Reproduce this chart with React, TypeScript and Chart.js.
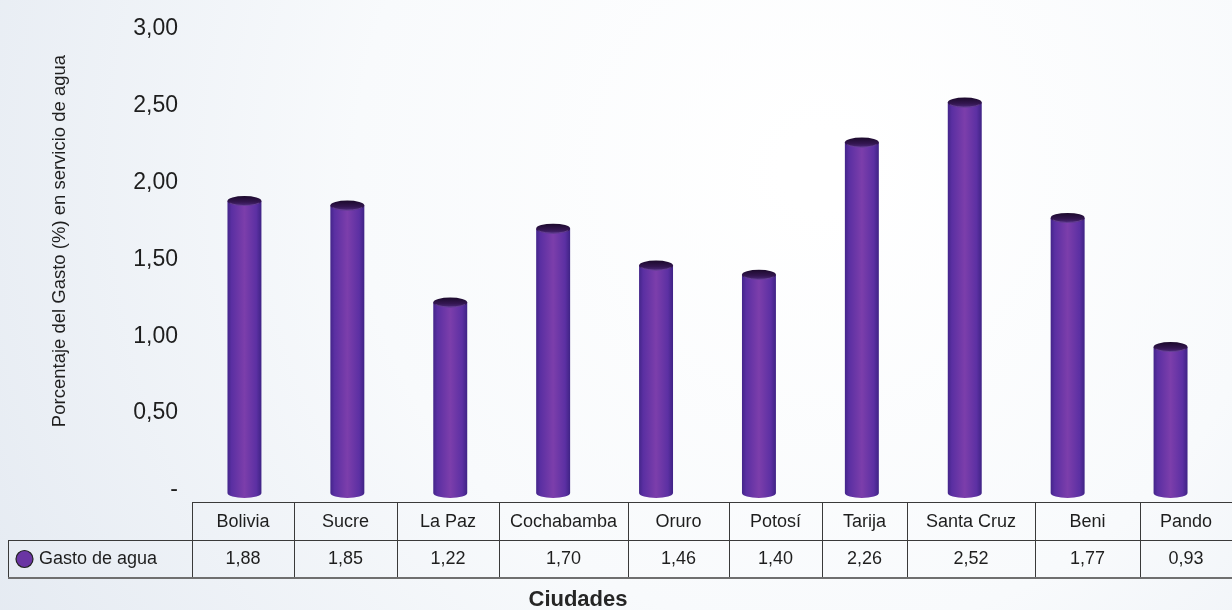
import React, { useEffect, useRef } from "react";
import { Chart, registerables } from "chart.js";

Chart.register(...registerables);

// Ciudades y porcentaje del gasto en servicio de agua
const ciudades = [
  "Bolivia",
  "Sucre",
  "La Paz",
  "Cochabamba",
  "Oruro",
  "Potosí",
  "Tarija",
  "Santa Cruz",
  "Beni",
  "Pando",
];
const gastoAgua = [1.88, 1.85, 1.22, 1.7, 1.46, 1.4, 2.26, 2.52, 1.77, 0.93];
const serieNombre = "Gasto de agua";
const ejeYTitulo = "Porcentaje del Gasto (%) en servicio de agua";
const ejeXTitulo = "Ciudades";

const FONT = "'Liberation Sans', Arial, Helvetica, sans-serif";

// Column borders of the data table under the plot (layout, in px)
const BORDES_TABLA = [192, 294, 397, 499, 628, 729, 822, 907, 1035, 1140, 1232];

const formatoComa = (v: number) => v.toFixed(2).replace(".", ",");

// Soft bluish background with a light centre
const fondoPlugin = {
  id: "fondo",
  beforeDraw(chart: any) {
    const { ctx, width, height } = chart;
    ctx.save();
    const g = ctx.createRadialGradient(820, 170, 40, 820, 170, 980);
    g.addColorStop(0, "#ffffff");
    g.addColorStop(0.45, "#f8fafc");
    g.addColorStop(1, "#e3e9f1");
    ctx.fillStyle = g;
    ctx.fillRect(0, 0, width, height);
    ctx.restore();
  },
};

// Cylinder bars drawn on top of the (transparent) bar elements
const cilindroPlugin = {
  id: "cilindros",
  afterDatasetsDraw(chart: any) {
    const { ctx } = chart;
    const meta = chart.getDatasetMeta(0);
    meta.data.forEach((bar: any) => {
      const { x, y, base, width } = bar.getProps(["x", "y", "base", "width"], true);
      const rx = width / 2;
      const ry = 5;
      const left = x - rx;
      const right = x + rx;
      const bottom = base + 3;
      ctx.save();
      // body
      const body = ctx.createLinearGradient(left, 0, right, 0);
      body.addColorStop(0, "#43258a");
      body.addColorStop(0.12, "#5a2fa2");
      body.addColorStop(0.5, "#7c3eab");
      body.addColorStop(0.85, "#5c30a3");
      body.addColorStop(1, "#3f2385");
      ctx.fillStyle = body;
      ctx.beginPath();
      ctx.moveTo(left, y);
      ctx.lineTo(left, bottom);
      ctx.ellipse(x, bottom, rx, ry, 0, Math.PI, 0, true);
      ctx.lineTo(right, y);
      ctx.closePath();
      ctx.fill();
      // top cap
      const cap = ctx.createLinearGradient(0, y - ry, 0, y + ry);
      cap.addColorStop(0, "#1c0a2c");
      cap.addColorStop(0.6, "#331650");
      cap.addColorStop(1, "#4d2a7c");
      ctx.fillStyle = cap;
      ctx.beginPath();
      ctx.ellipse(x, y, rx, ry, 0, 0, Math.PI * 2);
      ctx.fill();
      ctx.strokeStyle = "rgba(120,80,170,0.6)";
      ctx.lineWidth = 1;
      ctx.beginPath();
      ctx.ellipse(x, y, rx - 0.5, ry - 0.5, 0, 0.15 * Math.PI, 0.85 * Math.PI);
      ctx.stroke();
      ctx.restore();
    });
  },
};

// Data table, axis titles
const tablaPlugin = {
  id: "tabla",
  afterDraw(chart: any) {
    const { ctx } = chart;
    const data: number[] = chart.data.datasets[0].data;
    const labels: string[] = chart.data.labels;
    const tableRight = BORDES_TABLA[BORDES_TABLA.length - 1];
    const legendLeft = 8;
    const rowTop = 502;
    const rowMid = 540;
    const rowBottom = 577;
    const n = labels.length;

    ctx.save();
    ctx.strokeStyle = "#3a3a3a";
    ctx.lineWidth = 1;
    ctx.beginPath();
    ctx.moveTo(BORDES_TABLA[0], rowTop + 0.5);
    ctx.lineTo(tableRight, rowTop + 0.5);
    ctx.moveTo(legendLeft, rowMid + 0.5);
    ctx.lineTo(tableRight, rowMid + 0.5);
    ctx.moveTo(legendLeft + 0.5, rowMid);
    ctx.lineTo(legendLeft + 0.5, rowBottom);
    for (let i = 0; i < n; i++) {
      const xv = BORDES_TABLA[i] + 0.5;
      ctx.moveTo(xv, rowTop);
      ctx.lineTo(xv, rowBottom);
    }
    ctx.stroke();
    ctx.strokeStyle = "#6f6f6f";
    ctx.lineWidth = 2;
    ctx.beginPath();
    ctx.moveTo(legendLeft, rowBottom + 1);
    ctx.lineTo(tableRight, rowBottom + 1);
    ctx.stroke();

    ctx.fillStyle = "#1e1e1e";
    ctx.font = `18px ${FONT}`;
    ctx.textAlign = "center";
    ctx.textBaseline = "middle";
    for (let i = 0; i < n; i++) {
      const cx = (BORDES_TABLA[i] + BORDES_TABLA[i + 1]) / 2;
      ctx.fillText(labels[i], cx, (rowTop + rowMid) / 2 + 1);
      ctx.fillText(formatoComa(data[i]), cx, (rowMid + rowBottom) / 2 + 1);
    }

    // legend key
    ctx.beginPath();
    ctx.arc(24.5, 559, 8.5, 0, Math.PI * 2);
    ctx.fillStyle = "#6a35a3";
    ctx.fill();
    ctx.strokeStyle = "#222";
    ctx.lineWidth = 1.2;
    ctx.stroke();
    ctx.fillStyle = "#1e1e1e";
    ctx.textAlign = "left";
    ctx.fillText(chart.data.datasets[0].label, 39, 559);

    // x axis title
    ctx.font = `bold 22px ${FONT}`;
    ctx.textAlign = "center";
    ctx.fillStyle = "#262626";
    ctx.fillText(ejeXTitulo, 578, 600);

    // y axis title
    ctx.translate(60, 241);
    ctx.rotate(-Math.PI / 2);
    ctx.font = `18.5px ${FONT}`;
    ctx.fillStyle = "#1e1e1e";
    ctx.fillText(ejeYTitulo, 0, 0);
    ctx.restore();
  },
};

export default function App() {
  const canvasRef = useRef<HTMLCanvasElement | null>(null);

  useEffect(() => {
    if (!canvasRef.current) return;
    const chart = new Chart(canvasRef.current, {
      type: "bar",
      data: {
        labels: ciudades,
        datasets: [
          {
            label: serieNombre,
            data: gastoAgua,
            backgroundColor: "rgba(0,0,0,0)",
            borderWidth: 0,
            barPercentage: 0.33,
            categoryPercentage: 1,
          },
        ],
      },
      options: {
        responsive: false,
        animation: false,
        layout: { padding: { left: 0, right: 10, top: 25, bottom: 120 } },
        plugins: {
          legend: { display: false },
          tooltip: { enabled: false },
          title: { display: false },
        },
        scales: {
          x: {
            display: false,
            offset: true,
            grid: { display: false },
          },
          y: {
            min: 0,
            max: 3,
            afterFit(scale: any) {
              scale.width = 193;
            },
            border: { display: false },
            grid: { display: false, drawTicks: false },
            ticks: {
              stepSize: 0.5,
              padding: 15,
              color: "#1e1e1e",
              font: { family: FONT, size: 23 },
              callback: (v: any) => (Number(v) === 0 ? "-" : formatoComa(Number(v))),
            },
          },
        },
      },
      plugins: [fondoPlugin, cilindroPlugin, tablaPlugin],
    });
    return () => chart.destroy();
  }, []);

  return (
    <div style={{ position: "fixed", left: 0, top: 0, width: 1232, height: 610 }}>
      <canvas ref={canvasRef} width={1232} height={610} style={{ display: "block" }} />
    </div>
  );
}
